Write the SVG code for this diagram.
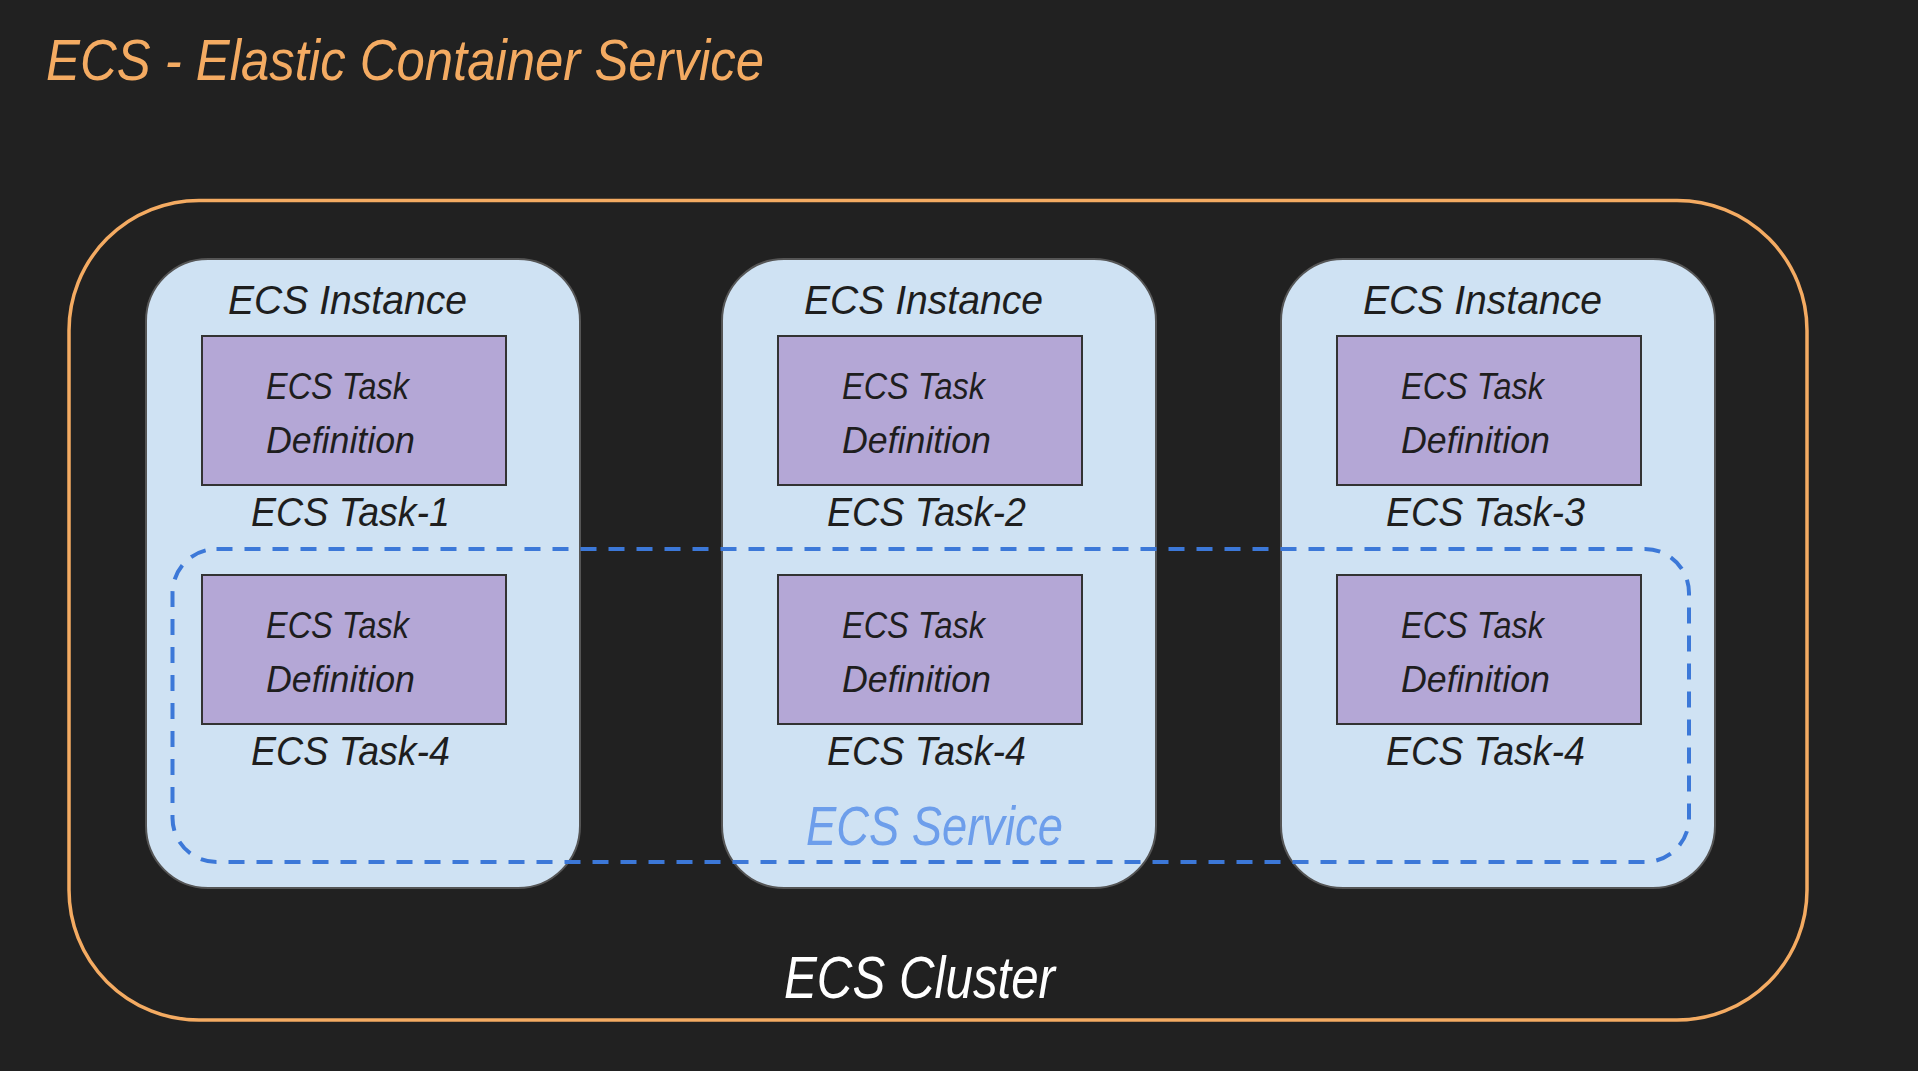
<svg xmlns="http://www.w3.org/2000/svg" width="1918" height="1071" viewBox="0 0 1918 1071">
<style>
text{font-family:"Liberation Sans Narrow","Liberation Sans",sans-serif;font-style:italic;}
.title{fill:#f4ab62;font-size:58px;}
.cluster{fill:none;stroke:#f4ab62;stroke-width:3.5;}
.inst{fill:#cfe2f3;stroke:#555555;stroke-width:2;}
.task{fill:#b4a7d6;stroke:#333333;stroke-width:2;}
.svc{fill:none;stroke:#3c78d8;stroke-width:4;stroke-dasharray:16 12;}
.lbl{fill:#1e1e1e;font-size:40px;}
.td{fill:#1e1e1e;font-size:37px;}
.svct{fill:#6d9eeb;font-size:56px;}
.clt{fill:#ffffff;font-size:60px;}
</style>
<rect x="0" y="0" width="1918" height="1071" fill="#212121"/>
<g id="title"><text class="title" x="46" y="80" textLength="718" lengthAdjust="spacingAndGlyphs">ECS - Elastic Container Service</text></g>
<g id="cluster">
<rect class="cluster" x="69" y="200.5" width="1738" height="819.5" rx="130" ry="130"/>
<text class="clt" x="784" y="998" textLength="271" lengthAdjust="spacingAndGlyphs">ECS Cluster</text>
</g>
<g id="instance-1">
<rect class="inst" x="146" y="259" width="434" height="629" rx="62" ry="62"/>
<text class="lbl" x="228" y="314" textLength="239" lengthAdjust="spacingAndGlyphs">ECS Instance</text>
</g>
<g id="instance-2">
<rect class="inst" x="722" y="259" width="434" height="629" rx="62" ry="62"/>
<text class="lbl" x="804" y="314" textLength="239" lengthAdjust="spacingAndGlyphs">ECS Instance</text>
</g>
<g id="instance-3">
<rect class="inst" x="1281" y="259" width="434" height="629" rx="62" ry="62"/>
<text class="lbl" x="1363" y="314" textLength="239" lengthAdjust="spacingAndGlyphs">ECS Instance</text>
</g>
<g id="service">
<rect class="svc" x="172.5" y="549" width="1516.5" height="313" rx="44" ry="44"/>
<text class="svct" x="806" y="845" textLength="257" lengthAdjust="spacingAndGlyphs">ECS Service</text>
</g>
<g id="task-1">
<rect class="task" x="202" y="336" width="304" height="149"/>
<text class="td" x="266" y="399" textLength="143" lengthAdjust="spacingAndGlyphs">ECS Task</text>
<text class="td" x="266" y="453" textLength="149" lengthAdjust="spacingAndGlyphs">Definition</text>
<text class="lbl" x="251" y="526" textLength="199" lengthAdjust="spacingAndGlyphs">ECS Task-1</text>
</g>
<g id="task-2">
<rect class="task" x="778" y="336" width="304" height="149"/>
<text class="td" x="842" y="399" textLength="143" lengthAdjust="spacingAndGlyphs">ECS Task</text>
<text class="td" x="842" y="453" textLength="149" lengthAdjust="spacingAndGlyphs">Definition</text>
<text class="lbl" x="827" y="526" textLength="199" lengthAdjust="spacingAndGlyphs">ECS Task-2</text>
</g>
<g id="task-3">
<rect class="task" x="1337" y="336" width="304" height="149"/>
<text class="td" x="1401" y="399" textLength="143" lengthAdjust="spacingAndGlyphs">ECS Task</text>
<text class="td" x="1401" y="453" textLength="149" lengthAdjust="spacingAndGlyphs">Definition</text>
<text class="lbl" x="1386" y="526" textLength="199" lengthAdjust="spacingAndGlyphs">ECS Task-3</text>
</g>
<g id="task-4a">
<rect class="task" x="202" y="575" width="304" height="149"/>
<text class="td" x="266" y="638" textLength="143" lengthAdjust="spacingAndGlyphs">ECS Task</text>
<text class="td" x="266" y="692" textLength="149" lengthAdjust="spacingAndGlyphs">Definition</text>
<text class="lbl" x="251" y="765" textLength="199" lengthAdjust="spacingAndGlyphs">ECS Task-4</text>
</g>
<g id="task-4b">
<rect class="task" x="778" y="575" width="304" height="149"/>
<text class="td" x="842" y="638" textLength="143" lengthAdjust="spacingAndGlyphs">ECS Task</text>
<text class="td" x="842" y="692" textLength="149" lengthAdjust="spacingAndGlyphs">Definition</text>
<text class="lbl" x="827" y="765" textLength="199" lengthAdjust="spacingAndGlyphs">ECS Task-4</text>
</g>
<g id="task-4c">
<rect class="task" x="1337" y="575" width="304" height="149"/>
<text class="td" x="1401" y="638" textLength="143" lengthAdjust="spacingAndGlyphs">ECS Task</text>
<text class="td" x="1401" y="692" textLength="149" lengthAdjust="spacingAndGlyphs">Definition</text>
<text class="lbl" x="1386" y="765" textLength="199" lengthAdjust="spacingAndGlyphs">ECS Task-4</text>
</g>
</svg>
